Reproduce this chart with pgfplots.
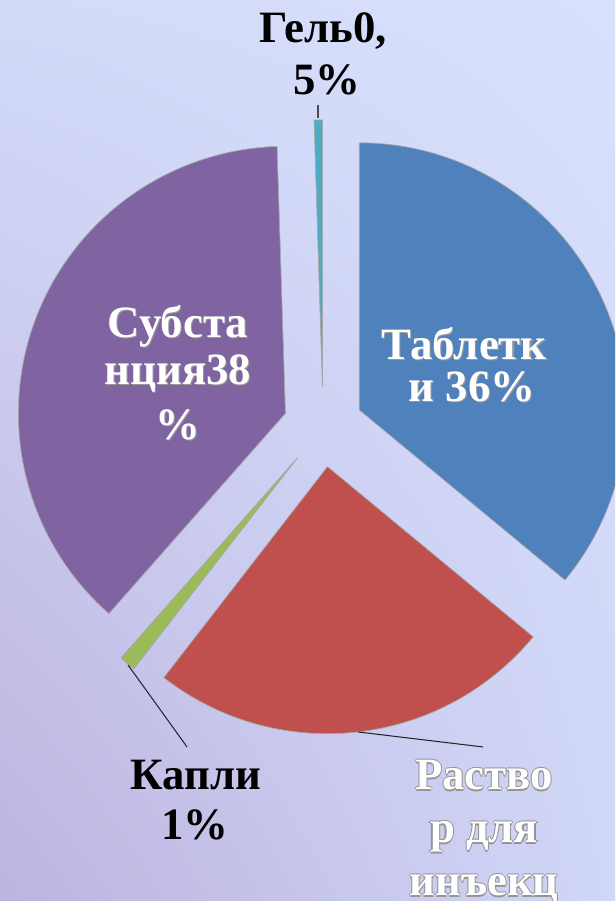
\documentclass[border=0pt]{standalone}
\usepackage{fontspec}
\setmainfont{Liberation Serif}
\usepackage{pgfplots}
\usepackage{pgfplotstable}
\pgfplotsset{compat=1.18}
\usetikzlibrary{shadings}

\definecolor{slice0}{HTML}{4F81BD}
\definecolor{slice1}{HTML}{C0504D}
\definecolor{slice2}{HTML}{9BBB59}
\definecolor{slice3}{HTML}{8064A2}
\definecolor{slice4}{HTML}{4BACC6}
\definecolor{bgUL}{HTML}{D3DBF9}
\definecolor{bgUR}{HTML}{D8E0FC}
\definecolor{bgLL}{HTML}{BDB3DF}
\definecolor{bgLR}{HTML}{D0D7F7}
\definecolor{ogray}{HTML}{959595}

% shares in percent, clockwise from 12 o'clock
\pgfplotstableread{
label value
Tabl  36
Rastv 24.5
Kapli 1
Subst 38
Gel   0.5
}\piedata

\newcommand\lbl{\fontsize{25.5}{30}\selectfont\bfseries}
\newcommand\shad[1]{{\setbox0=\hbox{#1}%
  \rlap{\kern.6pt\raisebox{-.6pt}{\textcolor{black!40}{\copy0}}}%
  \textcolor{white}{\copy0}}}
\newcommand\outl[1]{{\setbox0=\hbox{#1}%
  \rlap{\kern-.6pt\textcolor{ogray}{\copy0}}%
  \rlap{\kern.6pt\textcolor{ogray}{\copy0}}%
  \rlap{\raisebox{.6pt}{\textcolor{ogray}{\copy0}}}%
  \rlap{\raisebox{-.6pt}{\textcolor{ogray}{\copy0}}}%
  \textcolor{white}{\copy0}}}

\begin{document}
\begin{tikzpicture}
\useasboundingbox (0,0) rectangle (12.3cm,18.02cm);
\clip (0,0) rectangle (12.3cm,18.02cm);
\shade[upper left=bgUL, upper right=bgUR, lower left=bgLL, lower right=bgLR]
  (0,0) rectangle (12.3cm,18.02cm);
\begin{axis}[
    at={(0,0)}, anchor=origin,
    x=0.02cm, y=0.02cm,
    xmin=0, xmax=615, ymin=0, ymax=901,
    hide axis, clip=false,
]
\def\as{90}
\pgfplotsforeachungrouped \i in {0,...,4}{%
  \pgfplotstablegetelem{\i}{value}\of\piedata
  \pgfmathsetmacro\ae{\as-3.6*\pgfplotsretval}
  \pgfmathsetmacro\md{(\as+\ae)/2}
  \pgfmathsetmacro\px{323+40*cos(\md)}
  \pgfmathsetmacro\py{474+40*sin(\md)}
  \edef\temp{\noexpand\filldraw[fill=slice\i, draw=black!35, line width=0.4pt]
    (axis cs:\px,\py) -- ++(\as:5.34cm)
    arc[start angle=\as, end angle=\ae, radius=5.34cm] -- cycle;}
  \temp
  \let\as\ae
}

% leader lines
\draw[black!85, line width=0.6pt] (axis cs:128,236) -- (axis cs:187,154);
\draw[black!85, line width=0.6pt] (axis cs:358,169) -- (axis cs:483,154);
\draw[black!70, line width=0.9pt] (axis cs:318,796) -- (axis cs:318,783);

% labels
\node[anchor=base, font=\lbl] at (axis cs:323,858) {Гель0,};
\node[anchor=base, font=\lbl] at (axis cs:327,806) {5\%};
\node[anchor=base, font=\lbl] at (axis cs:464,541) {\shad{Таблетк}};
\node[anchor=base, font=\lbl] at (axis cs:472,499) {\shad{и 36\%}};
\node[anchor=base, font=\lbl] at (axis cs:178,563) {\shad{Субста}};
\node[anchor=base, font=\lbl] at (axis cs:178,516) {\shad{нция38}};
\node[anchor=base, font=\lbl] at (axis cs:178,461) {\shad{\%}};
\node[anchor=base, font=\lbl] at (axis cs:196,111) {Капли};
\node[anchor=base, font=\lbl] at (axis cs:195,61) {1\%};
\node[anchor=base, font=\lbl] at (axis cs:484,111) {\outl{Раство}};
\node[anchor=base, font=\lbl] at (axis cs:484,58) {\outl{р для}};
\node[anchor=base, font=\lbl] at (axis cs:484,5) {\outl{инъекц}};
\end{axis}
\end{tikzpicture}
\end{document}
